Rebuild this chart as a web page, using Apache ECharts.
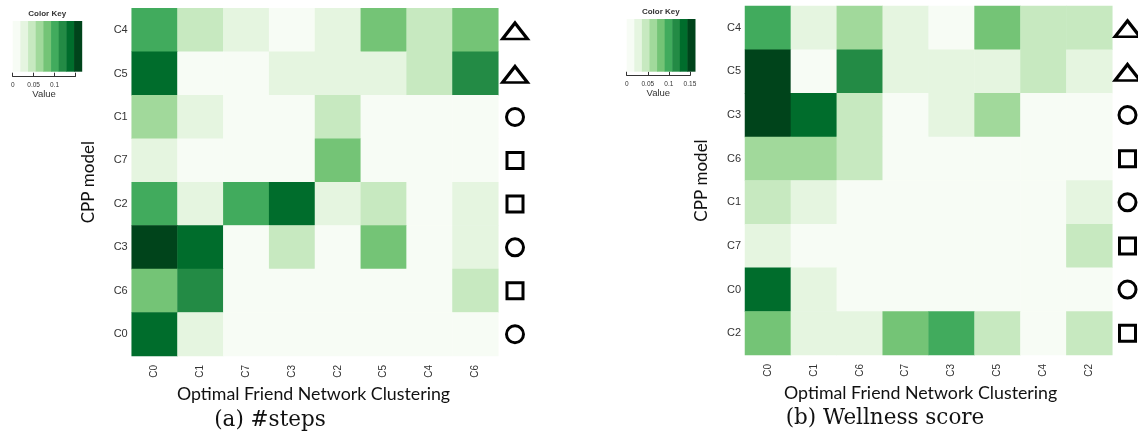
<!DOCTYPE html>
<html>
<head>
<meta charset="utf-8">
<script src="https://cdn.jsdelivr.net/npm/echarts@6/dist/echarts.min.js"></script>
<style>
  html, body { margin: 0; padding: 0; background: #ffffff; }
  #chart { width: 1138px; height: 432px; }
</style>
</head>
<body>
<div id="chart"></div>
<script>
// ColorBrewer "Greens", 9 classes
const greens = ['#f7fcf5', '#e5f5e0', '#c7e9c0', '#a1d99b', '#74c476', '#41ab5d', '#238b45', '#006d2c', '#00441b'];

// (a) #steps
const stepsCols = ['C0', 'C1', 'C7', 'C3', 'C2', 'C5', 'C4', 'C6'];
const stepsRows = ['C4', 'C5', 'C1', 'C7', 'C2', 'C3', 'C6', 'C0'];
const stepsShapes = ['triangle', 'triangle', 'circle', 'rect', 'rect', 'circle', 'rect', 'circle'];
const stepsValues = [
  [0.101, 0.046, 0.027, 0.006, 0.025, 0.083, 0.045, 0.080],
  [0.137, 0.004, 0.005, 0.026, 0.028, 0.024, 0.047, 0.118],
  [0.064, 0.027, 0.004, 0.003, 0.044, 0.006, 0.005, 0.004],
  [0.025, 0.005, 0.003, 0.004, 0.081, 0.004, 0.003, 0.005],
  [0.099, 0.026, 0.100, 0.136, 0.027, 0.045, 0.004, 0.024],
  [0.156, 0.138, 0.005, 0.046, 0.006, 0.082, 0.003, 0.026],
  [0.080, 0.119, 0.004, 0.005, 0.003, 0.004, 0.005, 0.046],
  [0.135, 0.027, 0.005, 0.004, 0.003, 0.005, 0.004, 0.003]
];
const stepsBreaks = [0, 0.0183, 0.0367, 0.055, 0.0733, 0.0917, 0.11, 0.1283, 0.1467, 0.165];
const stepsKeyTicks = [0, 0.05, 0.1, 0.15];
const stepsKeyLabels = ['0', '0.05', '0.1', ''];

// (b) Wellness score
const wellCols = ['C0', 'C1', 'C6', 'C7', 'C3', 'C5', 'C4', 'C2'];
const wellRows = ['C4', 'C5', 'C3', 'C6', 'C1', 'C7', 'C0', 'C2'];
const wellShapes = ['triangle', 'triangle', 'circle', 'rect', 'circle', 'rect', 'circle', 'rect'];
const wellValues = [
  [0.100, 0.027, 0.064, 0.026, 0.006, 0.082, 0.045, 0.046],
  [0.155, 0.005, 0.118, 0.027, 0.025, 0.026, 0.046, 0.027],
  [0.154, 0.136, 0.045, 0.005, 0.026, 0.063, 0.004, 0.005],
  [0.063, 0.064, 0.046, 0.004, 0.005, 0.003, 0.004, 0.005],
  [0.045, 0.027, 0.005, 0.004, 0.003, 0.005, 0.004, 0.026],
  [0.026, 0.004, 0.003, 0.005, 0.004, 0.003, 0.005, 0.046],
  [0.136, 0.027, 0.004, 0.003, 0.005, 0.004, 0.003, 0.005],
  [0.081, 0.026, 0.027, 0.082, 0.100, 0.045, 0.005, 0.046]
];
const wellBreaks = [0, 0.018, 0.036, 0.054, 0.072, 0.09, 0.108, 0.126, 0.144, 0.162];
const wellKeyTicks = [0, 0.05, 0.1, 0.15];
const wellKeyLabels = ['0', '0.05', '0.1', '0.15'];

const AXIS_FONT = 'Liberation Sans';
const TITLE_FONT = 'Lato';

function cells(rows, cols, values) {
  const out = [];
  rows.forEach((r, i) => cols.forEach((c, j) => out.push([c, r, values[i][j]])));
  return out;
}
function pieces(breaks) {
  return greens.map((col, k) => ({ gte: breaks[k], lt: breaks[k + 1], color: col }));
}

// layout of one panel
const panels = [
  {
    cols: stepsCols, rows: stepsRows, values: stepsValues, shapes: stepsShapes,
    breaks: stepsBreaks, ticks: stepsKeyTicks, tickLabels: stepsKeyLabels,
    heat: { left: 131.7, top: 8.3, width: 366.6, height: 347.7 },
    shape: { left: 502, width: 26 },
    key: { left: 12.7, top: 21, width: 69, height: 50.7, axisTop: 72.7, title: 14 },
    namePad: [0, 3, 0, 0],
    caption: '(a) #steps', capX: 270, capY: 420
  },
  {
    cols: wellCols, rows: wellRows, values: wellValues, shapes: wellShapes,
    breaks: wellBreaks, ticks: wellKeyTicks, tickLabels: wellKeyLabels,
    heat: { left: 745, top: 6, width: 367.3, height: 349 },
    shape: { left: 1117, width: 26 },
    key: { left: 626.7, top: 19, width: 68.3, height: 52.7, axisTop: 71.7, title: 12 },
    namePad: [0, 16, 0, 0],
    caption: '(b) Wellness score', capX: 885, capY: 418
  }
];

const grid = [], xAxis = [], yAxis = [], series = [], visualMap = [], graphic = [];

panels.forEach((p) => {
  const base = grid.length;
  const k = p.key;
  const lastTick = p.ticks[p.ticks.length - 1];
  const keyMax = p.breaks[p.breaks.length - 1];

  // heatmap grid
  grid.push({ left: p.heat.left, top: p.heat.top, width: p.heat.width, height: p.heat.height });
  xAxis.push({
    type: 'category', gridIndex: base, data: p.cols,
    axisLine: { show: false }, axisTick: { show: false },
    axisLabel: { rotate: 90, margin: 9, fontSize: 10, color: '#333', fontFamily: AXIS_FONT },
    name: 'Optimal Friend Network Clustering', nameLocation: 'middle', nameGap: 21,
    nameTextStyle: { fontSize: 17.8, color: '#111', fontFamily: TITLE_FONT, padding: p.namePad }
  });
  yAxis.push({
    type: 'category', gridIndex: base, data: p.rows, inverse: true,
    axisLine: { show: false }, axisTick: { show: false },
    axisLabel: { margin: 4, fontSize: 11, color: '#333', fontFamily: AXIS_FONT },
    name: 'CPP model', nameLocation: 'middle', nameGap: 34.5, nameRotate: 90,
    nameTextStyle: { fontSize: 17, color: '#111', fontFamily: TITLE_FONT }
  });
  series.push({
    type: 'heatmap', xAxisIndex: base, yAxisIndex: base,
    data: cells(p.rows, p.cols, p.values),
    itemStyle: { borderWidth: 0 }, emphasis: { disabled: true }
  });
  visualMap.push({
    type: 'piecewise', show: false, seriesIndex: series.length - 1, dimension: 2,
    pieces: pieces(p.breaks)
  });

  // shape column beside the rows
  grid.push({ left: p.shape.left, top: p.heat.top, width: p.shape.width, height: p.heat.height });
  xAxis.push({ type: 'category', gridIndex: base + 1, data: ['m'], show: false });
  yAxis.push({ type: 'category', gridIndex: base + 1, data: p.rows, inverse: true, show: false });
  series.push({
    type: 'scatter', xAxisIndex: base + 1, yAxisIndex: base + 1, silent: true,
    data: p.rows.map((r, i) => {
      const s = p.shapes[i];
      const size = s === 'triangle' ? [25, 16] : (s === 'circle' ? [17, 17] : [16, 16]);
      return { value: ['m', r], symbol: s, symbolSize: size, symbolOffset: s === 'triangle' ? [0, 1] : [0, 0] };
    }),
    itemStyle: { color: '#ffffff', borderColor: '#000000', borderWidth: 3, opacity: 1 }
  });

  // colour key bar
  grid.push({ left: k.left, top: k.top, width: k.width, height: k.height });
  xAxis.push({ type: 'value', gridIndex: base + 2, min: 0, max: keyMax, show: false });
  yAxis.push({ type: 'value', gridIndex: base + 2, min: 0, max: 1, show: false });
  series.push({
    type: 'custom', xAxisIndex: base + 2, yAxisIndex: base + 2, silent: true,
    data: greens.map((c, i) => [p.breaks[i], p.breaks[i + 1], i]),
    renderItem: (params, api) => {
      const a = api.coord([api.value(0), 1]);
      const b = api.coord([api.value(1), 0]);
      return {
        type: 'rect',
        shape: { x: a[0], y: a[1], width: b[0] - a[0] + 0.5, height: b[1] - a[1] },
        style: { fill: greens[api.value(2)] }
      };
    }
  });

  // colour key axis (line runs from first to last tick)
  const axisW = k.width * lastTick / keyMax;
  grid.push({ left: k.left, top: k.axisTop, width: axisW, height: 4 });
  xAxis.push({
    type: 'value', gridIndex: base + 3, min: 0, max: lastTick,
    axisLine: { show: true, lineStyle: { color: '#333', width: 1 } },
    axisTick: { show: true, inside: true, length: 4, customValues: p.ticks, lineStyle: { color: '#333' } },
    splitLine: { show: false },
    axisLabel: {
      customValues: p.ticks, margin: 5, fontSize: 6.5, color: '#333', fontFamily: AXIS_FONT,
      showMinLabel: true, showMaxLabel: true,
      formatter: v => {
        const idx = p.ticks.findIndex(t => Math.abs(t - v) < 1e-9);
        return idx >= 0 ? p.tickLabels[idx] : '';
      }
    },
    name: 'Value', nameLocation: 'middle', nameGap: 12,
    nameTextStyle: { fontSize: 9.5, color: '#333', fontFamily: AXIS_FONT }
  });
  yAxis.push({ type: 'value', gridIndex: base + 3, min: 0, max: 1, show: false });

  graphic.push({
    type: 'text', silent: true,
    style: {
      text: 'Color Key', x: k.left + k.width / 2, y: k.title, align: 'center', verticalAlign: 'middle',
      font: 'bold 8px "Liberation Sans"', fill: '#333'
    }
  });
  graphic.push({
    type: 'text', silent: true,
    style: {
      text: p.caption, x: p.capX, y: p.capY, align: 'center', verticalAlign: 'middle',
      font: '21.5px "DejaVu Serif"', fill: '#111'
    }
  });
});

const chart = echarts.init(document.getElementById('chart'), null, { renderer: 'canvas' });
chart.setOption({
  animation: false,
  backgroundColor: '#ffffff',
  grid, xAxis, yAxis, series, visualMap, graphic
});
</script>
</body>
</html>
